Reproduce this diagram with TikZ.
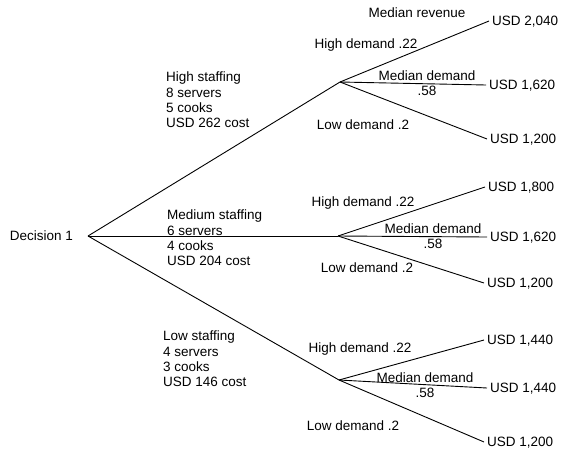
\documentclass[tikz,border=0pt]{standalone}
\usepackage{fontspec}
\setmainfont{Liberation Sans}
\usetikzlibrary{positioning}

\begin{document}
\begin{tikzpicture}[
  x=1pt, y=-1pt,
  font=\fontsize{13.5}{15.3}\selectfont,
  branch/.style={line width=0.9pt, black},
  leaf/.style={anchor=west, inner xsep=3pt, inner ysep=0pt, text height=9.7pt, text depth=0pt},
  tag/.style={inner sep=0pt, text height=9.7pt, text depth=0pt},
  info/.style={anchor=north west, inner sep=0pt, align=left},
  prob/.style={inner sep=0pt, align=center}
]
  \useasboundingbox (0,0) rectangle (583,458);

  % Decision point
  \coordinate (root) at (88,236);
  \node[tag, anchor=east] (decision) at (73,236) {Decision 1};

  % Chance points
  \coordinate (hi) at (340,82);
  \coordinate (md) at (338,236);
  \coordinate (lo) at (339,380);

  % Outcomes
  \node[leaf] (hiH) at (489,21) {USD 2,040};
  \node[leaf] (hiM) at (486,85) {USD 1,620};
  \node[leaf] (hiL) at (487,139) {USD 1,200};
  \node[leaf] (mdH) at (485,187) {USD 1,800};
  \node[leaf] (mdM) at (487,237) {USD 1,620};
  \node[leaf] (mdL) at (484,283) {USD 1,200};
  \node[leaf] (loH) at (484,340) {USD 1,440};
  \node[leaf] (loM) at (487,388) {USD 1,440};
  \node[leaf] (loL) at (484,442) {USD 1,200};

  % Branches
  \foreach \c in {hi,md,lo} {
    \draw[branch] (root) -- (\c);
    \foreach \o in {H,M,L}
      \draw[branch] (\c) -- (\c\o.west);
  }

  % Staffing options
  \node[info] (hiinfo) at (166,72) {High staffing\\8 servers\\5 cooks\\USD 262 cost};
  \node[info] (mdinfo) at (167,210) {Medium staffing\\6 servers\\4 cooks\\USD 204 cost};
  \node[info] (loinfo) at (163,331) {Low staffing\\4 servers\\3 cooks\\USD 146 cost};

  % Demand labels
  \node[tag] (revenue) at (417,13) {Median revenue};
  \node[tag] (hiHp) at (366,44) {High demand .22};
  \node[prob] (hiMp) at (427,83) {Median demand\\.58};
  \node[tag] (hiLp) at (363,125) {Low demand .2};
  \node[tag] (mdHp) at (363,202) {High demand .22};
  \node[prob] (mdMp) at (433,236) {Median demand\\.58};
  \node[tag] (mdLp) at (367,268) {Low demand .2};
  \node[tag] (loHp) at (360,348) {High demand .22};
  \node[prob] (loMp) at (425,385) {Median demand\\.58};
  \node[tag] (loLp) at (353,426) {Low demand .2};
\end{tikzpicture}
\end{document}
